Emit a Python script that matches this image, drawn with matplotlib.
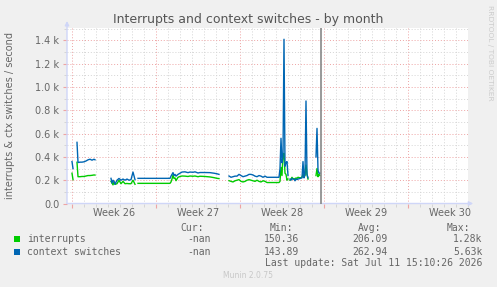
import numpy as np
import matplotlib
matplotlib.use("Agg")
from matplotlib import pyplot as plt
from matplotlib import transforms
from matplotlib.patches import Rectangle
from matplotlib.ticker import FuncFormatter

nan = np.nan

# time in hours since Monday of week 26, values in events / second
hours = [0, 2, 4, 10, 12, 16, 20, 24, 28, 32, 36, 40, 44, 46, 60,
         78, 80, 82, 84, 86, 90, 94, 98, 102, 106, 110, 114, 118, 122, 126, 129,
         132, 156, 176, 196, 198, 200, 202, 204, 206, 208, 212, 216, 220, 226, 232,
         236, 242, 246, 252, 256, 266, 276, 284, 290, 294, 304,
         314, 318, 322, 326, 330, 334, 338, 342, 346, 350, 354, 358, 362, 366, 370,
         374, 378, 382, 386, 390, 394, 414,
         416, 418, 420, 422, 424, 426, 428, 430, 432, 434,
         436, 438, 440, 442, 444, 446, 448, 450, 452, 456, 460, 462, 464, 466, 468,
         470, 472, 480,
         488, 490, 492, 494, 496]

interrupts = [260, 205, nan, 354, 230, 230, 232, 232, 236, 240, 240, 242, 245, 244, nan,
              190, 175, 160, 185, 165, 170, 200, 170, 190, 170, 172, 170, 170, 200, 165, nan,
              173, 173, 173, 173, 185, 210, 245, 215, 220, 196, 225, 232, 236, 235, 232,
              236, 234, 236, 230, 234, 232, 228, 222, 216, 214, nan,
              196, 190, 185, 195, 200, 205, 190, 185, 190, 200, 205, 200, 195, 190, 200,
              190, 185, 195, 190, 180, 180, 180,
              190, 310, 240, 420, 430, 260, 250, 200, 210, nan,
              200, 210, 225, 210, 215, 205, 220, 215, 225, 220, 225, 250, 230, 240, 330,
              250, 210, nan,
              240, 300, 230, 250, 240]

ctx_switches = [360, 300, nan, 525, 352, 355, 355, 358, 365, 375, 380, 372, 380, 375, nan,
                216, 175, 200, 190, 165, 200, 215, 200, 210, 200, 210, 200, 205, 270, 205, nan,
                216, 216, 216, 216, 235, 250, 265, 240, 250, 235, 250, 260, 270, 272, 265,
                270, 268, 272, 262, 266, 266, 265, 260, 255, 250, nan,
                236, 225, 230, 235, 235, 250, 240, 230, 235, 240, 250, 250, 245, 235, 230,
                240, 235, 225, 235, 225, 225, 225,
                300, 560, 350, 400, 1410, 320, 350, 360, 240, nan,
                210, 200, 215, 210, 210, 195, 210, 205, 210, 215, 220, 360, 220, 250, 880,
                250, 220, nan,
                400, 645, 285, 260, 260]

now_hour = 497
week_numbers = [26, 27, 28, 29, 30]
week_starts = [0, 7, 14, 21, 28]

series_names = ["interrupts", "context switches"]
series_colors = ["#00CC00", "#0066B3"]
cur_vals = ["-nan", "-nan"]
min_vals = ["150.36", "143.89"]
avg_vals = ["206.09", "262.94"]
max_vals = ["1.28k", "5.63k"]
last_update = "Last update: Sat Jul 11 15:10:26 2026"

W, H = 497, 287
font_col = "#666666"
axis_col = "#CFD6F8"


def fx(px):
    return px / W


def fy(py):
    return 1 - py / H


fig = plt.figure(figsize=(W / 100, H / 100), dpi=100, facecolor="#F0F0F0")
ax = fig.add_axes([fx(67), fy(203.5), fx(468) - fx(67), fy(27.5) - fy(203.5)])
ax.set_facecolor("white")

days = np.array(hours) / 24.0
ax.plot(days, interrupts, color=series_colors[0], lw=1.0, zorder=3)
ax.plot(days, ctx_switches, color=series_colors[1], lw=1.0, zorder=4)
ax.axvline(now_hour / 24.0, color="#888888", lw=1.2, zorder=5)

ax.set_xlim(-10 / 24, 33)
ax.set_ylim(0, 1511)

# grid
ax.set_xticks(week_starts)
ax.set_xticks(np.arange(0, 34), minor=True)
ax.set_yticks(np.arange(0, 1501, 200))
ax.set_yticks(np.arange(100, 1501, 200), minor=True)
ax.grid(which="minor", color="#d4d4d4", linestyle=(0, (1, 2)), lw=0.7)
ax.grid(which="major", color="#eea4a4", linestyle=(0, (1, 2)), lw=0.7)
ax.set_axisbelow(True)
ax.set_xticklabels([])
ax.yaxis.set_major_formatter(FuncFormatter(lambda v, p: "0.0" if v == 0 else f"{v / 1000:.1f} k"))
ax.tick_params(which="major", length=3, color="#eea4a4", labelsize=7, labelcolor=font_col, pad=2.5)
ax.tick_params(which="minor", length=2, color="#d0d0d0")
for s in ax.spines.values():
    s.set_visible(False)

# axes with arrows
ax.annotate("", xy=(0, 1.037), xytext=(0, 0), xycoords="axes fraction",
            arrowprops=dict(arrowstyle="-|>", color=axis_col, lw=1, mutation_scale=6,
                            shrinkA=0, shrinkB=0), annotation_clip=False)
ax.annotate("", xy=(1.013, 0), xytext=(0, 0), xycoords="axes fraction",
            arrowprops=dict(arrowstyle="-|>", color=axis_col, lw=1, mutation_scale=6,
                            shrinkA=0, shrinkB=0), annotation_clip=False)

trans = transforms.blended_transform_factory(ax.transData, ax.transAxes)
for wk, start in zip(week_numbers, week_starts):
    ax.text(start + 3.5, -9.2 / 176, f"Week {wk}", transform=trans, ha="center", va="center",
            fontsize=7, color=font_col)

fig.text(fx(248), fy(19), "Interrupts and context switches - by month", ha="center", va="center",
         fontsize=9, color="#555555")
fig.text(fx(10), fy(115.5), "interrupts & ctx switches / second", rotation=90, ha="center",
         va="center", fontsize=7, color=font_col)
fig.text(fx(490), fy(53), "RRDTOOL / TOBI OETIKER", rotation=270, ha="center", va="center",
         fontsize=5.4, color="#cccccc")

# legend block
mono = dict(family="DejaVu Sans Mono", fontsize=7.05, color=font_col, va="center")
for label, right in zip(["Cur:", "Min:", "Avg:", "Max:"], [204, 292.7, 381, 470]):
    fig.text(fx(right), fy(227.7), label, ha="right", **mono)
for i, ypix in enumerate([239.3, 251.7]):
    fig.patches.append(Rectangle((fx(14), fy(ypix + 3)), 6 / W, 6 / H, transform=fig.transFigure,
                                 facecolor=series_colors[i], edgecolor="none"))
    fig.text(fx(27), fy(ypix), series_names[i], ha="left", **mono)
    fig.text(fx(210.7), fy(ypix), cur_vals[i], ha="right", **mono)
    fig.text(fx(299), fy(ypix), min_vals[i], ha="right", **mono)
    fig.text(fx(387.7), fy(ypix), avg_vals[i], ha="right", **mono)
    fig.text(fx(482.7), fy(ypix), max_vals[i], ha="right", **mono)
fig.text(fx(482.7), fy(263.3), last_update, ha="right", **mono)
fig.text(fx(248), fy(276), "Munin 2.0.75", ha="center", va="center", fontsize=5.5, color="#c8c8c8")

fig.savefig("out.png", dpi=100, facecolor=fig.get_facecolor())
